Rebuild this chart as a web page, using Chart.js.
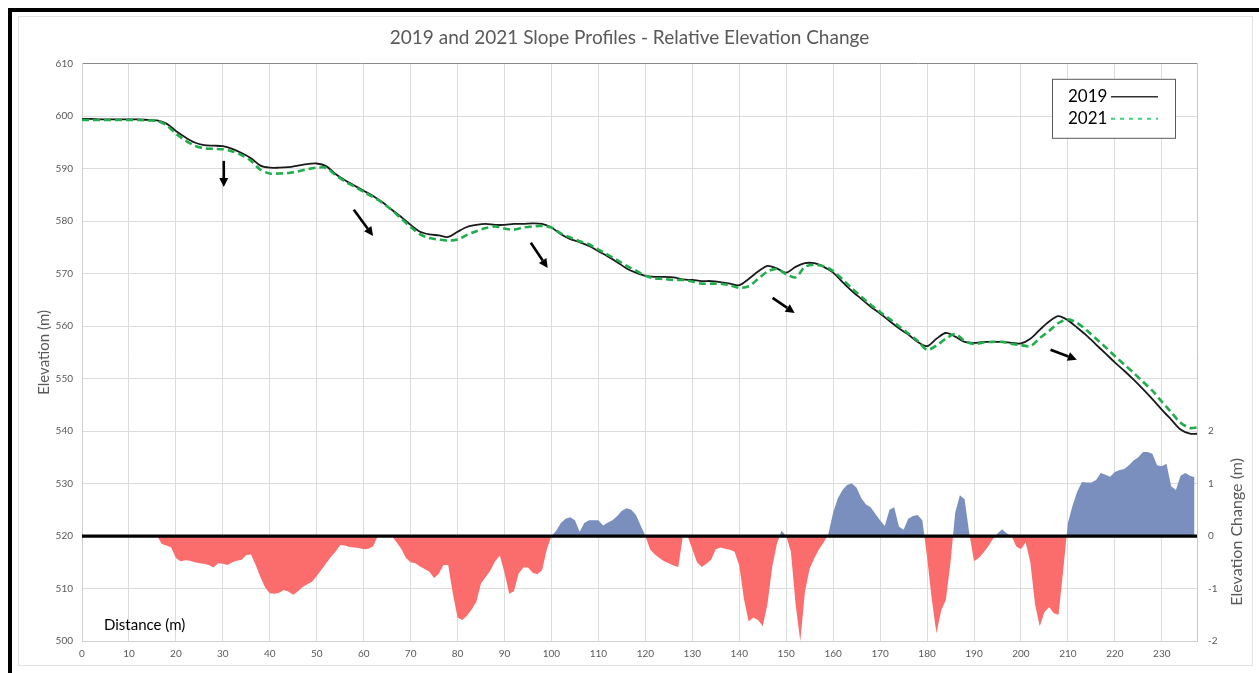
<!DOCTYPE html>
<html>
<head>
<meta charset="utf-8">
<title>2019 and 2021 Slope Profiles</title>
<script src="https://cdn.jsdelivr.net/npm/chart.js@4/dist/chart.umd.min.js"></script>
<style>
  html, body { margin: 0; padding: 0; background: #fff; overflow: hidden; }
  #frame { position: absolute; left: 8px; top: 8px; width: 1300px; height: 700px;
           border-left: 4px solid #000; border-top: 4px solid #000; }
  #inner { position: absolute; left: 18px; top: 16px; width: 1233px; height: 648px;
           border: 1px solid #e3e3e3; }
  #chart { position: absolute; left: 0; top: 0; }
</style>
</head>
<body>
<div id="frame"></div>
<div id="inner"></div>
<canvas id="chart" width="1259" height="673"></canvas>
<script>
(function () {
  // --- data ---
  // profile distances (m)
  const profileDistance = [
    0, 2, 4, 6, 8, 10, 12, 14, 16, 18,
    20, 22, 24, 26, 28, 30, 32, 34, 36, 38,
    40, 42, 44, 46, 48, 50, 52, 54, 56, 58,
    60, 62, 64, 66, 68, 70, 72, 74, 76, 78,
    80, 82, 84, 86, 88, 90, 92, 94, 96, 98,
    100, 102, 104, 106, 108, 110, 112, 114, 116, 118,
    120, 122, 124, 126, 128, 130, 132, 134, 136, 138,
    140, 142, 144, 146, 148, 150, 152, 154, 156, 158,
    160, 162, 164, 166, 168, 170, 172, 174, 176, 178,
    180, 182, 184, 186, 188, 190, 192, 194, 196, 198,
    200, 202, 204, 206, 208, 210, 212, 214, 216, 218,
    220, 222, 224, 226, 228, 230, 232, 234, 236, 237.5
  ];

  const elev2019 = [
    599.5, 599.5, 599.4, 599.4, 599.4, 599.4, 599.4, 599.3, 599.2, 598.6,
    597.2, 596.0, 595.0, 594.5, 594.4, 594.3, 593.8, 593.0, 592.0, 590.6,
    590.2, 590.2, 590.3, 590.6, 590.9, 591.0, 590.5, 589.0, 587.8, 586.8,
    585.8, 584.8, 583.6, 582.2, 580.8, 579.3, 578.0, 577.5, 577.3, 577.0,
    578.0, 578.9, 579.3, 579.5, 579.3, 579.3, 579.5, 579.5, 579.6, 579.5,
    578.8, 577.5, 576.6, 576.0, 575.3, 574.3, 573.3, 572.2, 571.0, 570.2,
    569.6, 569.4, 569.4, 569.3, 568.9, 568.8, 568.6, 568.6, 568.4, 568.1,
    567.8, 569.0, 570.4, 571.5, 571.0, 570.2, 571.3, 572.0, 572.0, 571.3,
    570.2, 568.4, 566.7, 565.2, 563.7, 562.4, 561.0, 559.6, 558.4, 557.0,
    556.2, 557.6, 558.7, 558.0, 557.0, 556.8, 557.0, 557.0, 557.0, 556.8,
    556.7, 557.6, 559.3, 560.9, 561.9, 561.1, 559.7, 558.2, 556.5, 554.8,
    553.1, 551.5, 549.8, 548.0, 546.1, 544.1, 542.2, 540.3, 539.5, 539.5
  ];

  const elev2021 = [
    599.3, 599.3, 599.3, 599.3, 599.3, 599.3, 599.3, 599.2, 599.1, 598.3,
    596.7, 595.4, 594.4, 593.9, 593.8, 593.7, 593.3, 592.6, 591.5, 589.8,
    589.1, 589.1, 589.2, 589.5, 589.9, 590.2, 590.2, 588.8, 587.6, 586.6,
    585.6, 584.6, 583.5, 582.1, 580.5, 578.9, 577.5, 576.8, 576.5, 576.3,
    576.5, 577.4, 578.1, 578.7, 579.0, 578.6, 578.4, 578.8, 579.0, 579.1,
    578.8, 577.7, 576.9, 576.2, 575.6, 574.6, 573.6, 572.6, 571.5, 570.6,
    569.6, 569.1, 569.0, 568.8, 568.8, 568.5, 568.1, 568.1, 568.1, 567.8,
    567.3, 567.6, 569.0, 570.4, 570.9, 569.9, 569.3, 571.3, 571.7, 571.4,
    570.5, 568.9, 567.2, 565.6, 564.1, 562.7, 561.4, 560.0, 558.6, 557.2,
    555.5, 556.3, 557.6, 558.5, 557.2, 556.6, 556.9, 557.0, 557.0, 556.6,
    556.4, 556.2, 557.7, 559.1, 560.6, 561.3, 560.6, 559.2, 557.6, 556.0,
    554.3, 552.7, 551.1, 549.4, 547.7, 545.6, 543.6, 541.6, 540.6, 540.7
  ];

  // elevation change distances (m), 1 m spacing
  const changeDistance = [
    0, 1, 2, 3, 4, 5, 6, 7, 8, 9,
    10, 11, 12, 13, 14, 15, 16, 17, 18, 19,
    20, 21, 22, 23, 24, 25, 26, 27, 28, 29,
    30, 31, 32, 33, 34, 35, 36, 37, 38, 39,
    40, 41, 42, 43, 44, 45, 46, 47, 48, 49,
    50, 51, 52, 53, 54, 55, 56, 57, 58, 59,
    60, 61, 62, 63, 64, 65, 66, 67, 68, 69,
    70, 71, 72, 73, 74, 75, 76, 77, 78, 79,
    80, 81, 82, 83, 84, 85, 86, 87, 88, 89,
    90, 91, 92, 93, 94, 95, 96, 97, 98, 99,
    100, 101, 102, 103, 104, 105, 106, 107, 108, 109,
    110, 111, 112, 113, 114, 115, 116, 117, 118, 119,
    120, 121, 122, 123, 124, 125, 126, 127, 128, 129,
    130, 131, 132, 133, 134, 135, 136, 137, 138, 139,
    140, 141, 142, 143, 144, 145, 146, 147, 148, 149,
    150, 151, 152, 153, 154, 155, 156, 157, 158, 159,
    160, 161, 162, 163, 164, 165, 166, 167, 168, 169,
    170, 171, 172, 173, 174, 175, 176, 177, 178, 179,
    180, 181, 182, 183, 184, 185, 186, 187, 188, 189,
    190, 191, 192, 193, 194, 195, 196, 197, 198, 199,
    200, 201, 202, 203, 204, 205, 206, 207, 208, 209,
    210, 211, 212, 213, 214, 215, 216, 217, 218, 219,
    220, 221, 222, 223, 224, 225, 226, 227, 228, 229,
    230, 231, 232, 233, 234, 235, 236, 237
  ];

  const elevChange = [
    0, 0, 0, 0, 0, 0, 0, 0, 0, 0,
    0, 0, 0, 0, 0, 0, 0, -0.15, -0.18, -0.22,
    -0.42, -0.48, -0.46, -0.47, -0.5, -0.52, -0.53, -0.55, -0.6, -0.52,
    -0.53, -0.55, -0.5, -0.47, -0.45, -0.36, -0.35, -0.55, -0.78, -0.98,
    -1.09, -1.1, -1.08, -1.03, -1.06, -1.12, -1.05, -0.97, -0.92, -0.87,
    -0.76, -0.64, -0.52, -0.4, -0.3, -0.17, -0.18, -0.21, -0.22, -0.23,
    -0.25, -0.24, -0.2, 0, 0, 0, 0, -0.12, -0.24, -0.42,
    -0.5, -0.52, -0.58, -0.63, -0.68, -0.8, -0.72, -0.55, -0.55, -1.1,
    -1.55, -1.6, -1.52, -1.4, -1.25, -0.9, -0.78, -0.65, -0.48, -0.37,
    -0.7, -1.1, -1.05, -0.72, -0.6, -0.6, -0.7, -0.73, -0.65, -0.25,
    0, 0.1, 0.25, 0.33, 0.36, 0.3, 0.08, 0.25, 0.3, 0.3,
    0.3, 0.2, 0.26, 0.3, 0.38, 0.48, 0.53, 0.5, 0.4, 0.2,
    0, -0.25, -0.35, -0.42, -0.48, -0.52, -0.56, -0.59, 0, 0,
    -0.25, -0.5, -0.59, -0.53, -0.45, -0.25, -0.22, -0.24, -0.26, -0.3,
    -0.56, -1.2, -1.63, -1.55, -1.6, -1.72, -1.3, -0.6, -0.15, 0.1,
    0, -0.3, -1.3, -2.0, -1.05, -0.62, -0.42, -0.25, -0.12, 0.05,
    0.45, 0.72, 0.88, 0.98, 1.0, 0.92, 0.72, 0.6, 0.55, 0.42,
    0.3, 0.19, 0.5, 0.55, 0.18, 0.12, 0.33, 0.38, 0.4, 0.3,
    -0.4, -1.2, -1.85, -1.42, -1.22, -0.5, 0.45, 0.78, 0.7, 0.05,
    -0.48, -0.42, -0.32, -0.2, -0.06, 0.05, 0.13, 0.05, 0, -0.2,
    -0.25, -0.12, -0.5, -1.3, -1.72, -1.45, -1.35, -1.47, -1.5, -0.65,
    0.25, 0.58, 0.85, 1.03, 1.02, 1.02, 1.07, 1.2, 1.17, 1.13,
    1.22, 1.26, 1.28, 1.35, 1.44, 1.5, 1.6, 1.6, 1.57, 1.35,
    1.33, 1.38, 0.95, 0.88, 1.15, 1.2, 1.15, 1.12
  ];

  // annotation arrows: [distance, elevation] tail -> head
  const arrowTail = [[30.2, 591.5], [57.9, 582.2], [95.6, 575.9], [147.1, 565.4], [206.3, 555.5]];
  const arrowHead = [[30.2, 586.5], [62.0, 577.2], [99.2, 571.1], [151.8, 562.5], [211.9, 553.6]];

  const X_MIN = 0, X_MAX = 237.5;
  const ZERO_CHANGE = 0;
  const seriesNames = ['2019', '2021'];

  const FONT = 'Lato, "Open Sans", sans-serif';
  const GREY = '#595959';
  const GREEN = '#1fae4b';

  const toXY = (xs, ys) => xs.map((x, i) => ({ x: x, y: ys[i] }));

  // --- custom drawing: arrows, legend box, extra labels ---
  const extrasPlugin = {
    id: 'extras',
    afterDatasetsDraw(chart) {
      const { ctx, chartArea, scales } = chart;
      const sx = scales.x, sy = scales.y;
      ctx.save();
      ctx.strokeStyle = '#000';
      ctx.fillStyle = '#000';
      ctx.lineWidth = 2.6;
      arrowTail.forEach((t, i) => {
        const h = arrowHead[i];
        const x1 = sx.getPixelForValue(t[0]), y1 = sy.getPixelForValue(t[1]);
        const x2 = sx.getPixelForValue(h[0]), y2 = sy.getPixelForValue(h[1]);
        const ang = Math.atan2(y2 - y1, x2 - x1);
        const hl = 9, hw = 4.5;
        ctx.beginPath();
        ctx.moveTo(x1, y1);
        ctx.lineTo(x2 - hl * Math.cos(ang), y2 - hl * Math.sin(ang));
        ctx.stroke();
        ctx.beginPath();
        ctx.moveTo(x2, y2);
        ctx.lineTo(x2 - hl * Math.cos(ang) - hw * Math.sin(ang), y2 - hl * Math.sin(ang) + hw * Math.cos(ang));
        ctx.lineTo(x2 - hl * Math.cos(ang) + hw * Math.sin(ang), y2 - hl * Math.sin(ang) - hw * Math.cos(ang));
        ctx.closePath();
        ctx.fill();
      });

      // legend box (text first, line sample after)
      const bx = chartArea.right - 145, by = chartArea.top + 15, bw = 123, bh = 59;
      ctx.fillStyle = '#fff';
      ctx.fillRect(bx, by, bw, bh);
      ctx.strokeStyle = '#595959';
      ctx.lineWidth = 1;
      ctx.strokeRect(bx + 0.5, by + 0.5, bw, bh);
      ctx.font = '17px ' + FONT;
      ctx.fillStyle = '#000';
      ctx.textBaseline = 'middle';
      ctx.textAlign = 'left';
      seriesNames.forEach((name, i) => {
        const ty = by + 18 + i * 22;
        ctx.fillText(name, bx + 16, ty);
        ctx.beginPath();
        if (i === 0) {
          ctx.strokeStyle = '#333';
          ctx.lineWidth = 1.5;
          ctx.setLineDash([]);
        } else {
          ctx.strokeStyle = '#3fcf7c';
          ctx.lineWidth = 2;
          ctx.setLineDash([4, 5]);
        }
        ctx.moveTo(bx + 59, ty);
        ctx.lineTo(bx + 106, ty);
        ctx.stroke();
      });
      ctx.setLineDash([]);

      // "Distance (m)" inside plot
      ctx.font = '15px ' + FONT;
      ctx.fillStyle = '#000';
      ctx.textBaseline = 'alphabetic';
      ctx.fillText('Distance (m)', chartArea.left + 22, chartArea.bottom - 11);

      // right axis title, reads bottom to top
      ctx.save();
      ctx.translate(chartArea.right + 40, sy.getPixelForValue(520.8));
      ctx.rotate(-Math.PI / 2);
      ctx.font = '16px ' + FONT;
      ctx.fillStyle = GREY;
      ctx.textAlign = 'center';
      ctx.textBaseline = 'middle';
      ctx.fillText('Elevation Change (m)', 0, 0);
      ctx.restore();
      ctx.restore();
    }
  };

  const ctx = document.getElementById('chart').getContext('2d');
  new Chart(ctx, {
    type: 'line',
    data: {
      datasets: [
        {
          label: '2021',
          data: toXY(profileDistance, elev2021),
          yAxisID: 'y',
          borderColor: GREEN,
          borderWidth: 2.6,
          borderDash: [7, 4],
          pointRadius: 0,
          tension: 0.3,
          fill: false,
          order: 0
        },
        {
          label: '2019',
          data: toXY(profileDistance, elev2019),
          yAxisID: 'y',
          borderColor: '#1a1a1a',
          borderWidth: 1.8,
          pointRadius: 0,
          tension: 0.3,
          fill: false,
          order: 1
        },
        {
          label: 'zero',
          data: [{ x: X_MIN, y: ZERO_CHANGE }, { x: X_MAX, y: ZERO_CHANGE }],
          yAxisID: 'y2',
          borderColor: '#000',
          borderWidth: 3.2,
          pointRadius: 0,
          fill: false,
          order: 2
        },
        {
          label: 'Elevation Change',
          data: toXY(changeDistance, elevChange),
          yAxisID: 'y2',
          borderWidth: 0,
          borderColor: 'rgba(0,0,0,0)',
          pointRadius: 0,
          tension: 0,
          fill: { target: 'origin', above: '#7b8fbe', below: '#fb6c6c' },
          order: 3
        }
      ]
    },
    options: {
      responsive: false,
      animation: false,
      layout: { padding: 0 },
      plugins: {
        legend: { display: false },
        tooltip: { enabled: false },
        title: {
          display: true,
          text: '2019 and 2021 Slope Profiles - Relative Elevation Change',
          color: GREY,
          font: { family: FONT, size: 19, weight: 'normal' },
          padding: { top: 26, bottom: 15 }
        }
      },
      scales: {
        x: {
          type: 'linear',
          min: X_MIN,
          max: X_MAX,
          ticks: { stepSize: 10, includeBounds: false, color: GREY, padding: 7,
                   font: { family: FONT, size: 10 } },
          grid: { color: '#dcdcdc', drawTicks: false },
          border: { color: '#d0d0d0' },
          afterFit: (s) => { s.height = 32; }
        },
        y: {
          position: 'left',
          min: 500,
          max: 610,
          ticks: { stepSize: 10, color: GREY, padding: 9, font: { family: FONT, size: 10 } },
          grid: {
            drawTicks: false,
            color: (c) => (c.tick && c.tick.value === 610 ? '#8a8a8a' : '#dcdcdc')
          },
          border: { color: '#d0d0d0' },
          title: { display: true, text: 'Elevation (m)', color: GREY,
                   font: { family: FONT, size: 15 }, padding: { top: 35, bottom: 0 } },
          afterFit: (s) => { s.width = 82; }
        },
        y2: {
          position: 'right',
          min: -2,
          max: 9,
          ticks: {
            stepSize: 1, color: GREY, padding: 11, font: { family: FONT, size: 10 },
            callback: (v) => (v <= 2 ? v : '')
          },
          grid: { drawOnChartArea: false, drawTicks: false },
          border: { color: '#c8c8c8' },
          afterFit: (s) => { s.width = 62; }
        }
      }
    },
    plugins: [extrasPlugin]
  });
})();
</script>
</body>
</html>
